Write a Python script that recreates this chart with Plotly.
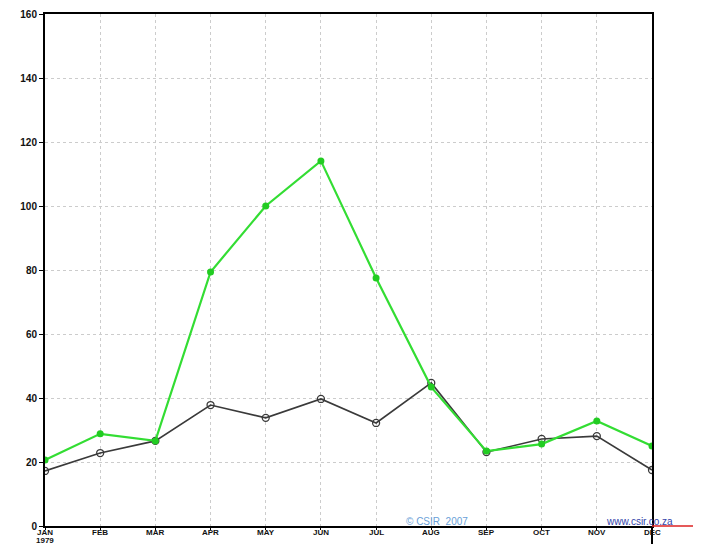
import plotly.graph_objects as go

months = ["JAN", "FEB", "MAR", "APR", "MAY", "JUN", "JUL", "AUG", "SEP", "OCT", "NOV", "DEC"]
year_label = "1979"
green_vals = [20.6, 28.8, 26.6, 79.4, 100.0, 114.1, 77.5, 43.4, 23.4, 25.6, 32.8, 25.0]
black_vals = [17.2, 22.8, 26.6, 37.8, 33.8, 39.7, 32.2, 44.7, 23.1, 27.2, 28.1, 17.5]
y_ticks = [0, 20, 40, 60, 80, 100, 120, 140, 160]

x = list(range(len(months)))

fig = go.Figure()
fig.add_trace(go.Scatter(
    x=x, y=black_vals, mode="lines+markers",
    line=dict(color="#3a3a3a", width=1.6),
    marker=dict(symbol="circle-open", size=7, color="#3a3a3a", line=dict(width=1.3)),
    showlegend=False))
fig.add_trace(go.Scatter(
    x=x, y=green_vals, mode="lines+markers",
    line=dict(color="#33dd33", width=2.2),
    marker=dict(symbol="circle", size=7, color="#22cc22"),
    showlegend=False))

tickfont = dict(family="Liberation Sans", size=10, color="#111111", weight="bold")
xtickfont = dict(family="Liberation Sans", size=8, color="#111111", weight="bold")
fig.update_layout(
    width=693, height=537,
    margin=dict(l=37, r=49, t=6, b=19),
    paper_bgcolor="white", plot_bgcolor="white",
    xaxis=dict(range=[0, 11], tickvals=x, showticklabels=False,
               showgrid=True, gridcolor="#cccccc", griddash="dot", gridwidth=1,
               showline=True, linecolor="black", linewidth=2, mirror=True,
               ticks="outside", ticklen=2, tickcolor="black",
               automargin=False, zeroline=False),
    yaxis=dict(range=[0, 160], tickvals=y_ticks,
               showgrid=True, gridcolor="#cccccc", griddash="dot", gridwidth=1,
               showline=True, linecolor="black", linewidth=2, mirror=True,
               ticks="outside", ticklen=4, tickcolor="black",
               tickfont=tickfont, automargin=False, zeroline=False),
)

for xi, m in zip(x, months):
    fig.add_annotation(xref="x", yref="paper", x=xi, y=-(532 - 526) / 512,
                       text=m, showarrow=False, font=xtickfont, borderpad=0,
                       xanchor="center", yanchor="middle")
fig.add_annotation(xref="x", yref="paper", x=0, y=-(540.5 - 526) / 512,
                   text=year_label, showarrow=False, font=xtickfont, borderpad=0,
                   xanchor="center", yanchor="middle")

# right axis extension below plot and red underline to the right
fig.add_shape(type="line", xref="paper", yref="paper", x0=1, x1=1, y0=0, y1=-0.035,
              line=dict(color="black", width=2))
fig.add_shape(type="line", xref="paper", yref="paper", x0=1, x1=1.079, y0=0, y1=0,
              line=dict(color="#dd2222", width=1.5))

fig.add_annotation(xref="paper", yref="paper", x=(437 - 45) / 607, y=(526 - 521) / 512,
                   text="© CSIR  2007", showarrow=False,
                   font=dict(family="Liberation Sans", size=10, color="#6a9fd8"),
                   xanchor="center", yanchor="middle")
fig.add_annotation(xref="paper", yref="paper", x=(639 - 45) / 607, y=(526 - 521) / 512,
                   text="www.csir.co.za", showarrow=False,
                   font=dict(family="Liberation Sans", size=10, color="#3344aa"),
                   xanchor="center", yanchor="middle")

fig.write_html("out.html")
